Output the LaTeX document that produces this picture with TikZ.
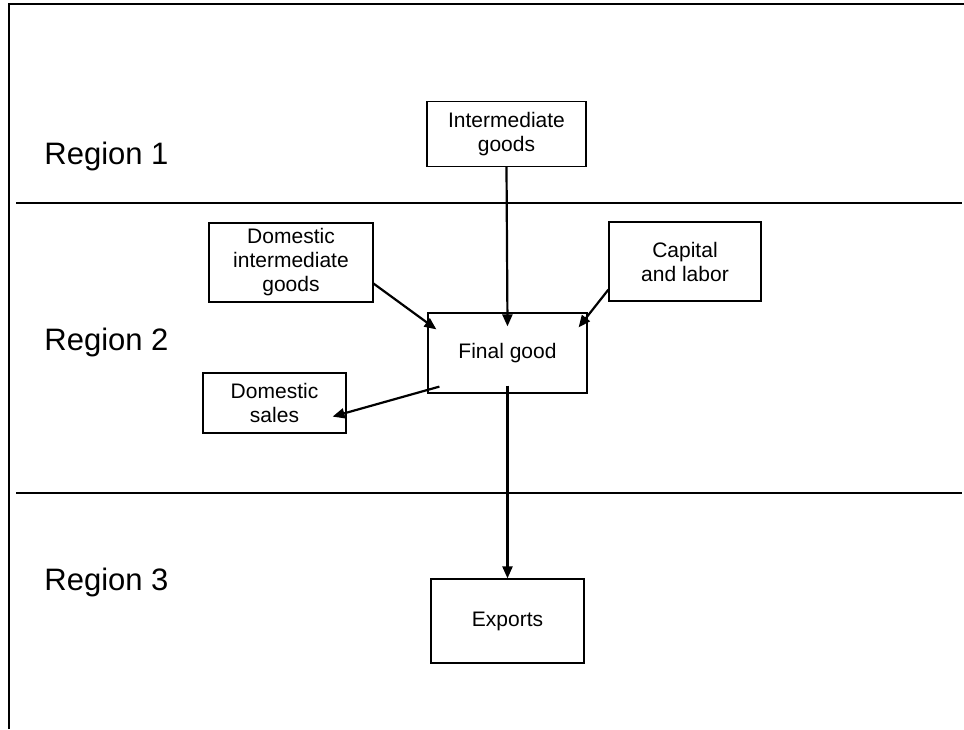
\documentclass[tikz,border=0pt]{standalone}
\usepackage{fontspec}
\setmainfont{Liberation Sans}
\usetikzlibrary{arrows.meta,calc}
\begin{document}
\begin{tikzpicture}[x=0.5pt,y=-0.5pt,
  box/.style={draw,line width=0.6pt,align=center,inner sep=0pt,font=\fontsize{10.5}{12}\selectfont},
  region/.style={anchor=base west,inner sep=0pt,font=\fontsize{15.5}{18}\selectfont},
  flow/.style={line width=1.1pt,-{Triangle[length=6pt,width=5pt]}}]
\useasboundingbox (0,0) rectangle (964,729);
% frame and region borders
\draw [line width=1pt] (8.5,729) -- (8.5,3.5) -- (964,3.5);
\draw [line width=0.7pt] (16,203) -- (962,203);
\draw [line width=0.7pt] (16,493) -- (962,493);
\node [region] (r1) at (44,164) {Region 1};
\node [region] (r2) at (44,350) {Region 2};
\node [region] (r3) at (44,590) {Region 3};
% boxes
\node [box,minimum width=79.5pt,minimum height=32.5pt] (ig) at (506.5,134) {Intermediate\\goods};
\node [box,minimum width=82pt,minimum height=39.5pt] (di) at (291,262.5) {Domestic\\intermediate\\goods};
\node [box,minimum width=76pt,minimum height=39.5pt] (ca) at (685,261.5) {Capital\\and labor};
\node [box,minimum width=79.5pt,minimum height=40pt] (fg) at (507.5,353) {Final good};
\node [box,minimum width=71.5pt,minimum height=30pt] (ds) at (274.5,403) {Domestic\\sales};
\node [box,minimum width=76.5pt,minimum height=42pt] (ex) at (507.5,621) {Exports};
% flows
\draw [flow] (ig.south) -- ($(fg.north)+(0,14)$);
\draw [flow] ($(di.south east)+(0,-19)$) -- ($(fg.north west)+(9,17)$);
\draw [flow] ($(ca.south west)+(0,-12)$) -- ($(fg.north east)+(-9,15)$);
\draw [flow] ($(fg.south west)+(12,-7)$) -- ($(ds.south east)+(-14,-17)$);
\draw [flow] ($(fg.south)+(0,-8)$) -- (ex.north);
\end{tikzpicture}
\end{document}
